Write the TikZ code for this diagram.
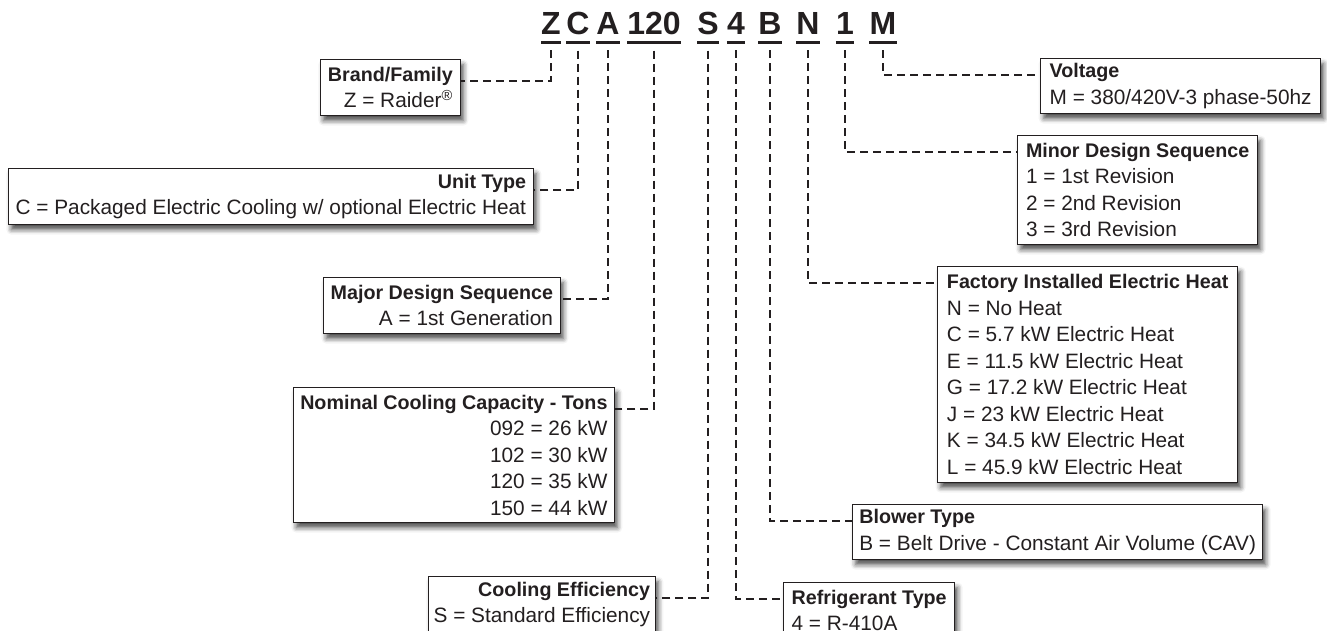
\documentclass[tikz,border=0pt]{standalone}
\usepackage{fontspec}
\setmainfont{Liberation Sans}
\usetikzlibrary{shadows.blur}
\definecolor{ink}{RGB}{35,31,32}
\newcommand\boxtitle[1]{{\fontsize{19.7}{26.5}\selectfont\bfseries #1}}

\begin{document}
\begin{tikzpicture}[x=1pt, y=-1pt,
    box/.style={draw=ink, line width=1.3pt, fill=white, text=ink, inner xsep=5pt, inner ysep=2pt,
        font=\fontsize{20.8}{26.5}\selectfont,
        blur shadow={shadow xshift=3pt, shadow yshift=-5pt, shadow blur radius=5pt, shadow opacity=70}},
    lbox/.style 2 args={box, align=right, anchor=north east, minimum width=#1, minimum height=#2},
    rbox/.style 2 args={box, align=left, anchor=north west, minimum width=#1, minimum height=#2},
    code/.style={font=\fontsize{32}{32}\selectfont\bfseries, text=ink, inner sep=0pt, anchor=base},
    uline/.style={draw=ink, line width=3pt},
    conn/.style={draw=ink, line width=2pt, dash pattern=on 8pt off 5pt}]
    \useasboundingbox (0,0) rectangle (1327,631);

    % model number
    \foreach \t/\x/\n in {Z/551/z, C/578/c, A/608/a, 120/654/n120, S/708/s, 4/736/n4, B/770/b, N/808/nn, 1/845/none, M/883/m} {
        \node[code] (\n) at (\x,35) {\t};
        \draw[uline] ([yshift=-7pt]\n.south west) -- ([yshift=-7pt]\n.south east);
    }

    % left side
    \node[lbox={140pt}{56pt}] (brand) at (461,59) {\boxtitle{Brand/Family}\\ Z = Raider\textsuperscript{®}};
    \node[lbox={525pt}{56pt}] (unit) at (534,168) {\boxtitle{Unit Type}\\ C = Packaged Electric Cooling w/ optional Electric Heat};
    \node[lbox={237pt}{56pt}] (major) at (561,277) {\boxtitle{Major Design Sequence}\\ A = 1st Generation};
    \node[lbox={321pt}{135pt}] (tons) at (615,387) {\boxtitle{Nominal Cooling Capacity - Tons}\\ 092 = 26 kW\\ 102 = 30 kW\\ 120 = 35 kW\\ 150 = 44 kW};
    \node[lbox={227pt}{56pt}] (eff) at (656,576) {\boxtitle{Cooling Efficiency}\\ S = Standard Efficiency};

    % right side
    \node[rbox={280pt}{55pt}] (volt) at (1040,58) {\boxtitle{Voltage}\\ M = 380/420V-3 phase-50hz};
    \node[rbox={240pt}{109pt}] (minor) at (1017,135) {\boxtitle{Minor Design Sequence}\\ 1 = 1st Revision\\ 2 = 2nd Revision\\ 3 = 3rd Revision};
    \node[rbox={300pt}{216pt}] (heat) at (937,266) {\boxtitle{Factory Installed Electric Heat}\\ N = No Heat\\ C = 5.7 kW Electric Heat\\ E = 11.5 kW Electric Heat\\ G = 17.2 kW Electric Heat\\ J = 23 kW Electric Heat\\ K = 34.5 kW Electric Heat\\ L = 45.9 kW Electric Heat};
    \node[rbox={410pt}{55pt}] (blower) at (852,504) {\boxtitle{Blower Type}\\ B = Belt Drive - Constant Air Volume (CAV)};
    \node[rbox={171pt}{56pt}] (refr) at (783,582) {\boxtitle{Refrigerant Type}\\ 4 = R-410A};

    % connectors
    \draw[conn] ([yshift=-15pt]z.south) |- ([yshift=-22pt]brand.north east);
    \draw[conn] ([yshift=-15pt]c.south) |- ([yshift=-22pt]unit.north east);
    \draw[conn] ([yshift=-15pt]a.south) |- ([yshift=-22pt]major.north east);
    \draw[conn] ([yshift=-15pt]n120.south) |- ([yshift=-22pt]tons.north east);
    \draw[conn] ([yshift=-15pt]s.south) |- ([yshift=-22pt]eff.north east);
    \draw[conn] ([yshift=-15pt]m.south) |- ([yshift=-17pt]volt.north west);
    \draw[conn] ([yshift=-15pt]none.south) |- ([yshift=-17pt]minor.north west);
    \draw[conn] ([yshift=-15pt]nn.south) |- ([yshift=-17pt]heat.north west);
    \draw[conn] ([yshift=-15pt]b.south) |- ([yshift=-17pt]blower.north west);
    \draw[conn] ([yshift=-15pt]n4.south) |- ([yshift=-17pt]refr.north west);
\end{tikzpicture}
\end{document}
